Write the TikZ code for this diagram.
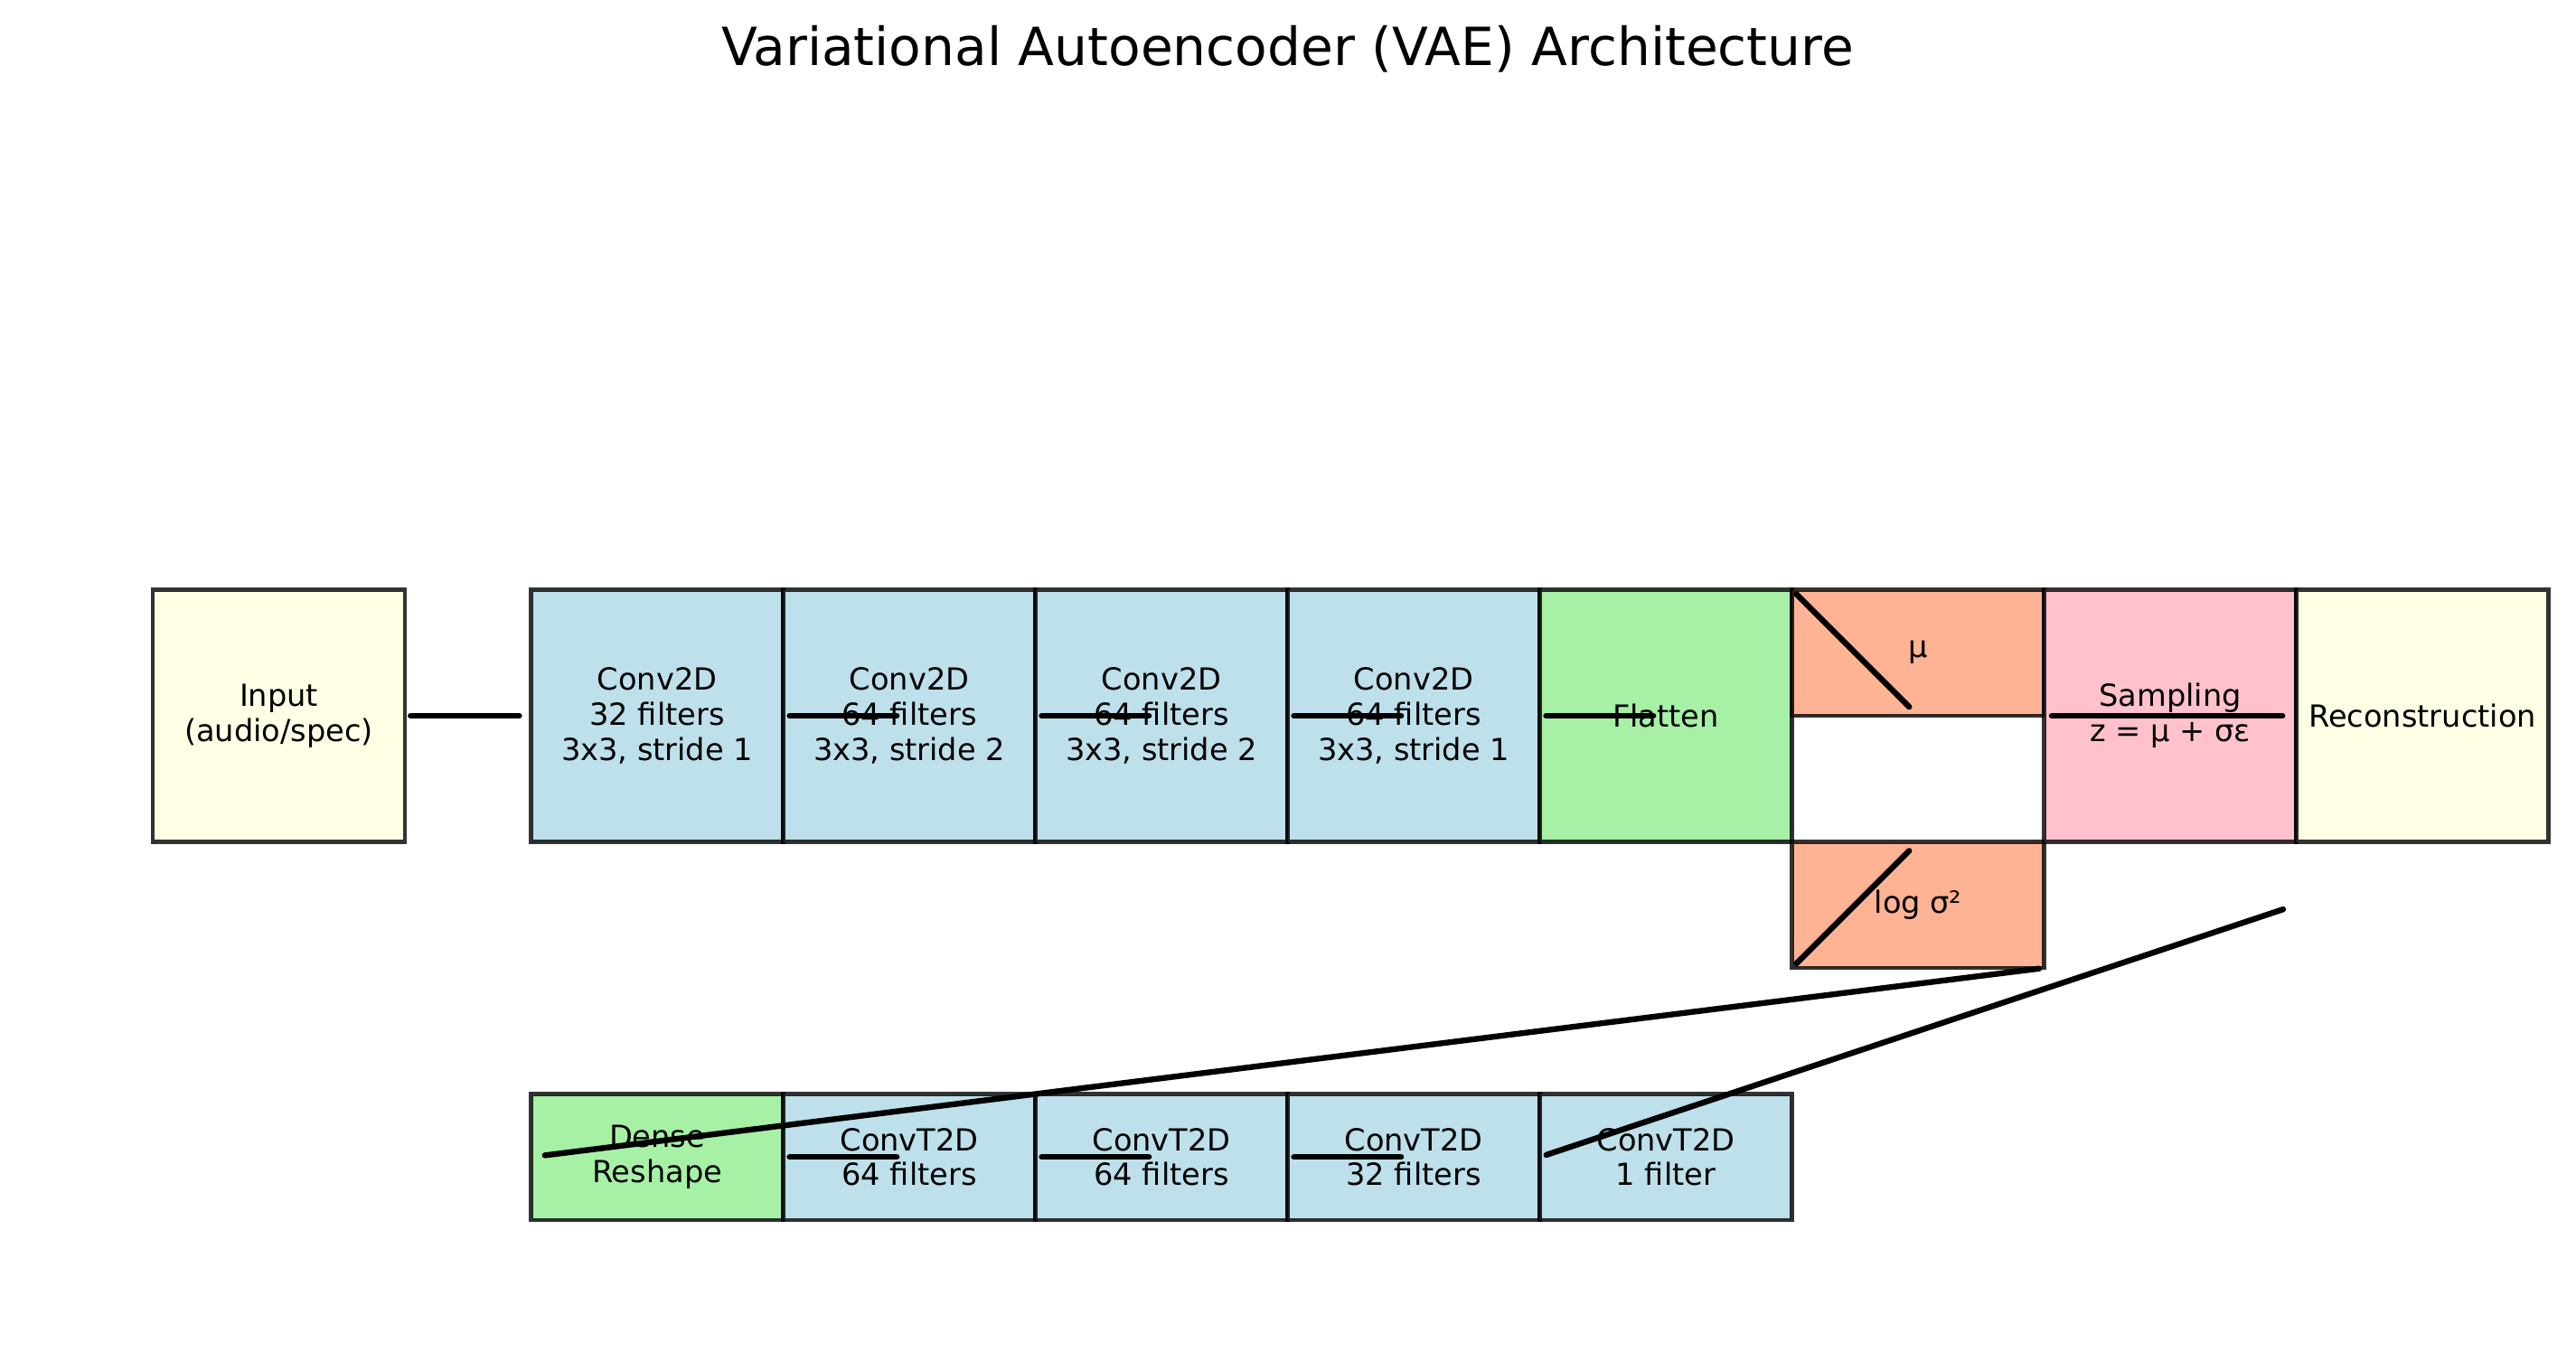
\documentclass[tikz,border=0pt]{standalone}
\usepackage{fontspec}
\setmainfont{DejaVu Sans}
\usetikzlibrary{calc}
\definecolor{lyellow}{HTML}{FFFFE0}
\definecolor{lblue}{HTML}{ADD8E6}
\definecolor{lgreen}{HTML}{90EE90}
\definecolor{lsalmon}{HTML}{FFA07A}
\definecolor{lpink}{RGB}{255,194,205}
\begin{document}
\begin{tikzpicture}[x=1cm,y=1cm,
  blk/.style={draw=black, draw opacity=0.8, fill opacity=0.8, text opacity=1,
    line width=0.45pt, minimum width=1cm, minimum height=1cm, inner sep=0pt,
    outer sep=0pt, align=center, font=\fontsize{3.43pt}{3.96pt}\selectfont},
  half/.style={blk, minimum height=0.5cm},
  conn/.style={line width=0.65pt, line cap=round, draw=black}]
\useasboundingbox (-0.606,-2.095) rectangle (9.609,3.339);

\node[font=\fontsize{5.94pt}{7.1pt}\selectfont] (title) at (4.5,3.146) {Variational Autoencoder (VAE) Architecture};

% encoder row
\node[blk, fill=lyellow] (inp) at (0.5,0.5) {Input\\(audio/spec)};
\node[blk, fill=lblue] (c1) at (2,0.5) {Conv2D\\32 filters\\3x3, stride 1};
\node[blk, fill=lblue] (c2) at (3,0.5) {Conv2D\\64 filters\\3x3, stride 2};
\node[blk, fill=lblue] (c3) at (4,0.5) {Conv2D\\64 filters\\3x3, stride 2};
\node[blk, fill=lblue] (c4) at (5,0.5) {Conv2D\\64 filters\\3x3, stride 1};
\node[blk, fill=lgreen] (fl) at (6,0.5) {Flatten};
\node[half, fill=lsalmon] (mu) at (7,0.75) {μ};
\node[half, fill=lsalmon] (lv) at (7,-0.25) {log σ²};
\node[blk, fill=lpink, fill opacity=1] (smp) at (8,0.5) {Sampling\\z = μ + σε};
\node[blk, fill=lyellow] (rec) at (9,0.5) {Reconstruction};

% decoder row
\node[half, fill=lgreen] (dn) at (2,-1.25) {Dense\\Reshape};
\node[half, fill=lblue] (d1) at (3,-1.25) {ConvT2D\\64 filters};
\node[half, fill=lblue] (d2) at (4,-1.25) {ConvT2D\\64 filters};
\node[half, fill=lblue] (d3) at (5,-1.25) {ConvT2D\\32 filters};
\node[half, fill=lblue] (d4) at (6,-1.25) {ConvT2D\\1 filter};

\coordinate (zout) at ($(smp.south east)+(0,-0.25)$);

% connectors
\draw[conn] ($(inp.east)!0.022cm!(c1.west)$) -- ($(c1.west)!0.047cm!(inp.east)$);
\draw[conn] ($(c1.east)!0.025cm!(c2.center)$) -- ($(c2.center)!0.05cm!(c1.east)$);
\draw[conn] ($(c2.east)!0.025cm!(c3.center)$) -- ($(c3.center)!0.05cm!(c2.east)$);
\draw[conn] ($(c3.east)!0.025cm!(c4.center)$) -- ($(c4.center)!0.05cm!(c3.east)$);
\draw[conn] ($(c4.east)!0.025cm!(fl.center)$) -- ($(fl.center)!0.05cm!(c4.east)$);
\draw[conn] ($(fl.north east)!0.025cm!(mu.south)$) -- ($(mu.south)!0.05cm!(fl.north east)$);
\draw[conn] ($(lv.south west)!0.025cm!(lv.north)$) -- ($(lv.north)!0.05cm!(lv.south west)$);
\draw[conn] ($(smp.west)!0.03cm!(smp.east)$) -- ($(smp.east)!0.055cm!(smp.west)$);
\draw[conn] ($(lv.south east)!0.02cm!(dn.west)$) -- ($(dn.west)!0.055cm!(lv.south east)$);
\draw[conn] ($(d4.west)!0.027cm!(zout)$) -- ($(zout)!0.055cm!(d4.west)$);
\draw[conn] ($(dn.east)!0.025cm!(d1.center)$) -- ($(d1.center)!0.05cm!(dn.east)$);
\draw[conn] ($(d1.east)!0.025cm!(d2.center)$) -- ($(d2.center)!0.05cm!(d1.east)$);
\draw[conn] ($(d2.east)!0.025cm!(d3.center)$) -- ($(d3.center)!0.05cm!(d2.east)$);
\end{tikzpicture}
\end{document}
